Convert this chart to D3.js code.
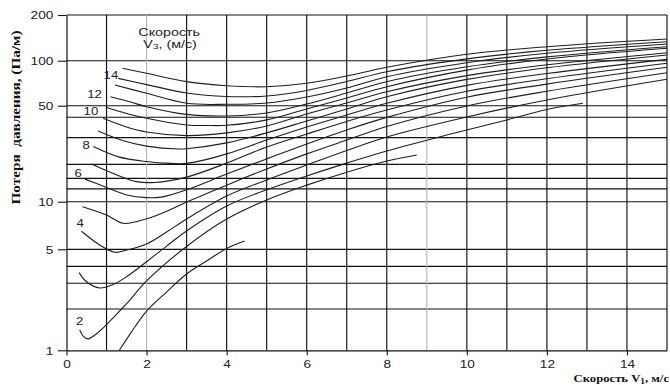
<!DOCTYPE html>
<html><head><meta charset="utf-8">
<script src="https://cdn.jsdelivr.net/npm/d3@7"></script>
<style>
html,body{margin:0;padding:0;background:#fff;}
svg{display:block;}
</style></head><body>
<svg id="chart" width="670" height="385"></svg>
<script>
// ---- data: pressure loss (Pa/m) vs velocity V1 (m/s), one curve per V3 ----
const curve1  = [[1.32,1.0],[1.6,1.31],[2,1.87],[2.5,2.53],[3,3.37],[3.5,4.15],[4,5.06],[4.45,5.64]];
const curve2  = [[0.33,1.38],[0.42,1.25],[0.54,1.2],[0.7,1.27],[0.95,1.46],[1.5,2.1],[2,3.02],[3,5.21],[4,7.77],[5,10.3],[6,13.2],[7,16.4],[8,19.8],[8.75,21.9]];
const curve3  = [[0.315,3.45],[0.5,2.98],[0.83,2.7],[1.15,2.84],[1.5,3.23],[2,4.1],[2.5,5.24],[3,6.53],[4,9.39],[5,12.2],[6,15.4],[7,19.1],[8,23.4],[9.6,31.1],[11,39.4],[12,46.9],[12.9,51.9]];
const curve4  = [[0.375,6.5],[0.83,5.32],[1.21,4.77],[1.5,4.94],[2,5.4],[2.5,6.43],[3,7.77],[4,11.0],[5,14.4],[6,18.5],[7,23.6],[8,29.6],[10,41.4],[12,54.6],[15,75.1]];
const curve5  = [[0.4,9.3],[1,8.24],[1.42,7.3],[2,7.8],[2.5,8.7],[3,9.95],[4,13.2],[5,17.3],[6,22.3],[7,28.1],[8,35.3],[10,49.8],[12,62.5],[15,83.1]];
const curve6  = [[0.46,14.6],[0.94,12.9],[1.5,11.2],[2,10.7],[2.4,10.85],[3,12.2],[4,15.9],[5,20.5],[6,26.3],[7,33.3],[8,41.1],[10,57.0],[12,69.7],[15,90.3]];
const curve7  = [[0.625,18.8],[1.2,15.9],[1.75,14.0],[2.2,13.8],[3,15.1],[4,19.1],[5,25.0],[6,31.1],[7,38.4],[8,46.5],[10,62.4],[12,75.7],[15,96.1]];
const curve8  = [[0.67,25.2],[1.3,21.2],[2,19.6],[2.6,19.0],[3,19.0],[4,22.3],[5,28.1],[6,35.0],[7,42.8],[8,51.9],[10,68.4],[12,82.1],[15,102.1]];
const curve9  = [[0.79,32.7],[1.4,27.9],[2,25.4],[2.8,24.2],[3,24.3],[4,26.8],[5,31.7],[6,38.7],[7,47.3],[8,57.4],[10,75.0],[12,89.6],[15,109.0]];
const curve10 = [[0.915,40.5],[1.5,35.0],[2,32.2],[3,30.3],[4,31.7],[5,35.6],[6,43.5],[7,52.1],[8,62.0],[10,79.5],[12,93.9],[15,112.9]];
const curve11 = [[0.98,48.7],[1.5,43.9],[2,40.5],[3,36.2],[3.5,35.9],[4,36.0],[5,39.4],[6,47.3],[7,56.3],[8,67.0],[10,86.5],[12,102.6],[15,120.7]];
const curve12 = [[1.1,57.4],[1.6,52.9],[2,49.2],[3,43.2],[4,42.1],[5,44.3],[6,51.3],[7,60.8],[8,72.4],[10,91.0],[12,105.9],[15,123.7]];
const curve13 = [[1.21,68.8],[2,60.5],[3,51.9],[4,51.1],[5,52.1],[6,57.2],[7,65.7],[8,78.2],[10,97.0],[12,111.9],[15,128.8]];
const curve14 = [[1.29,76.2],[2,69.2],[3,60.8],[4,57.6],[5,58.1],[6,63.2],[7,72.6],[8,84.4],[10,102.8],[12,117.1],[15,133.4]];
const curve15 = [[1.4,89.0],[2,82.4],[3,72.4],[4,68.0],[5,67.0],[6,70.6],[7,79.0],[8,90.3],[10,110.2],[12,123.7],[15,139.0]];
const curves = [curve1,curve2,curve3,curve4,curve5,curve6,curve7,curve8,curve9,curve10,curve11,curve12,curve13,curve14,curve15];

const xTicks = [0,2,4,6,8,10,12,14];
const yTicks = [1,5,10,50,100,200];
const xGridBlack = [1,3,4,5,6,7,8,10,11,12,13,14,15];
const xGridGray = [2,9];
const yGrid = [1.93,2.91,3.81,5,10,12.4,14.8,18.7,29.3,41.2,50,100,200];

const curveLabels = ["2","4","6","8","10","12","14"];
const labelX = [0.33,0.34,0.29,0.49,0.61,0.7,1.11];
const labelY = [1.6,7.3,16.2,25.9,45.9,60.1,80.2];

const titleLines = ["Скорость", "V", "3", ", (м/с)"];
const yTitle = "Потеря\u00a0\u00a0давления, (Па/м)";

// ---- drawing ----
const svg = d3.select("#chart");
const x = d3.scaleLinear().domain([0, 15]).range([66.5, 667]);
const y = d3.scaleLog().domain([1, 5, 10, 50, 100, 200]).range([350.3, 249.3, 201.7, 105.7, 60.7, 15]);
const SX = 1.3; // horizontal stretch of lettering

const grid = svg.append("g");
grid.selectAll("line.hg").data(yGrid).enter().append("line")
  .attr("x1", x(0)).attr("x2", x(15)).attr("y1", d => y(d)).attr("y2", d => y(d))
  .attr("stroke", "#111").attr("stroke-width", 1.15);
grid.selectAll("line.vg").data(xGridGray).enter().append("line")
  .attr("x1", d => x(d)).attr("x2", d => x(d)).attr("y1", y(1)).attr("y2", y(200))
  .attr("stroke", "#b4b4b4").attr("stroke-width", 1.1);
grid.selectAll("line.vb").data(xGridBlack).enter().append("line")
  .attr("x1", d => x(d)).attr("x2", d => x(d)).attr("y1", y(1)).attr("y2", y(200))
  .attr("stroke", "#111").attr("stroke-width", 1.15);

// axes
const xAxis = svg.append("g").attr("transform", `translate(0,${y(1)})`)
  .call(d3.axisBottom(x).tickValues(xTicks).tickSize(5).tickSizeOuter(0).tickFormat(d3.format("d")));
const yAxis = svg.append("g").attr("transform", `translate(${x(0)},0)`)
  .call(d3.axisLeft(y).tickValues(yTicks).tickSize(8.5).tickSizeOuter(0).tickFormat(d3.format("d")));
[xAxis, yAxis].forEach(a => {
  a.select(".domain").attr("stroke", "#111").attr("stroke-width", 1.2);
  a.selectAll(".tick line").attr("stroke", "#111").attr("stroke-width", 1.1);
  a.selectAll(".tick text").attr("font-family", "'Liberation Sans', Arial, sans-serif")
    .attr("font-size", 10.5).attr("fill", "#222");
});
xAxis.selectAll(".tick text").attr("dy", null).attr("y", 17.8).attr("transform", `scale(${SX},1)`);
yAxis.selectAll(".tick text").attr("dy", null).attr("x", -13.2 / SX).attr("y", 3.8).attr("transform", `scale(${SX},1)`);

// curves
const line = d3.line().x(d => x(d[0])).y(d => y(d[1])).curve(d3.curveCatmullRom.alpha(0.5));
svg.append("g").selectAll("path").data(curves).enter().append("path")
  .attr("d", line).attr("fill", "none").attr("stroke", "#1e1e1e").attr("stroke-width", 1.1);

// curve labels
const lab = svg.append("g");
curveLabels.forEach((t, i) => {
  lab.append("g").attr("transform", `translate(${x(labelX[i])},${y(labelY[i])}) scale(1.2,1)`)
    .append("text").text(t).attr("text-anchor", "middle").attr("dy", "0.36em")
    .attr("font-family", "'Liberation Sans', Arial, sans-serif").attr("font-size", 11).attr("fill", "#222");
});

// parameter title
const tt = svg.append("g").attr("font-family", "'Liberation Sans', Arial, sans-serif").attr("fill", "#222");
tt.append("g").attr("transform", `translate(169.2,35.5) scale(${SX},1)`)
  .append("text").attr("text-anchor", "middle").attr("font-size", 11).text(titleLines[0]);
const t2 = tt.append("g").attr("transform", `translate(170,47.5) scale(${SX},1)`)
  .append("text").attr("text-anchor", "middle").attr("font-size", 11);
t2.append("tspan").text(titleLines[1]);
t2.append("tspan").attr("font-size", 8).attr("dy", 1.5).text(titleLines[2]);
t2.append("tspan").attr("dy", -1.5).text(titleLines[3]);

// x-axis title
const xt = svg.append("g").attr("transform", `translate(669,382) scale(1.15,1)`)
  .append("text").attr("text-anchor", "end").attr("font-family", "'Liberation Serif', 'Times New Roman', serif")
  .attr("font-weight", "bold").attr("font-size", 11).attr("fill", "#111");
xt.append("tspan").text("Скорость V");
xt.append("tspan").attr("font-size", 8).attr("dy", 1.5).text("1");
xt.append("tspan").attr("dy", -1.5).text(", м/с");

// y-axis title
svg.append("text").attr("transform", `translate(19.5,117.5) rotate(-90)`)
  .attr("text-anchor", "middle").attr("font-family", "'Liberation Serif', 'Times New Roman', serif")
  .attr("font-weight", "bold").attr("font-size", 12).attr("fill", "#111")
  .attr("textLength", 174).attr("lengthAdjust", "spacingAndGlyphs").text(yTitle);
</script>
</body></html>
